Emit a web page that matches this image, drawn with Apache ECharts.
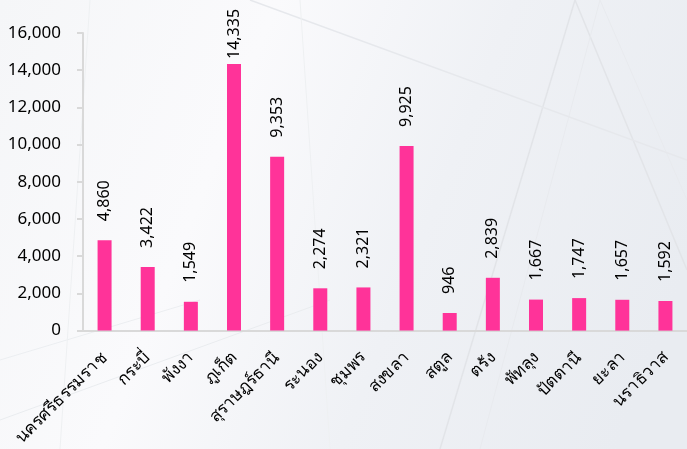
<!DOCTYPE html>
<html>
<head>
<meta charset="utf-8">
<script src="https://cdn.jsdelivr.net/npm/echarts@6/dist/echarts.min.js"></script>
<style>
  html, body { margin: 0; padding: 0; }
  #chart { width: 687px; height: 449px; }
</style>
</head>
<body>
<div id="chart"></div>
<script>
// จังหวัดภาคใต้
const provinces = ['นครศรีธรรมราช', 'กระบี่', 'พังงา', 'ภูเก็ต', 'สุราษฎร์ธานี', 'ระนอง', 'ชุมพร',
  'สงขลา', 'สตูล', 'ตรัง', 'พัทลุง', 'ปัตตานี', 'ยะลา', 'นราธิวาส'];
const counts = [4860, 3422, 1549, 14335, 9353, 2274, 2321, 9925, 946, 2839, 1667, 1747, 1657, 1592];
const yTicks = [0, 2000, 4000, 6000, 8000, 10000, 12000, 14000, 16000];

const chart = echarts.init(document.getElementById('chart'));
const fmt = (v) => Number(v).toLocaleString('en-US');
const lineCol = '#d9d9d9';

// เส้นจาง ๆ ของภาพตึกด้านหลัง
const bgLine = (pts, c, w) => ({
  type: 'polyline', silent: true, z: -1,
  shape: { points: pts },
  style: { stroke: c || '#e6e8ec', lineWidth: w || 1, fill: null },
});

chart.setOption({
  backgroundColor: {
    type: 'linear', x: 0, y: 0, x2: 1, y2: 0.6,
    colorStops: [
      { offset: 0, color: '#f5f6f8' },
      { offset: 0.35, color: '#fafafc' },
      { offset: 0.65, color: '#eff1f5' },
      { offset: 1, color: '#e9ecf1' },
    ],
  },
  graphic: [
    bgLine([[440, 449], [575, 0]], '#e2e4e8', 1.5),
    bgLine([[575, 0], [687, 270]], '#e2e4e8', 1.5),
    bgLine([[480, 449], [600, 0]], '#e8eaee'),
    bgLine([[600, 0], [687, 200]], '#e8eaee'),
    bgLine([[250, 0], [687, 160]], '#e6e8ec', 1.5),
    bgLine([[0, 420], [330, 300]], '#eaecef'),
    bgLine([[0, 360], [200, 300]], '#eceef1'),
    bgLine([[90, 0], [60, 449]], '#eef0f2'),
    bgLine([[300, 0], [330, 449]], '#eef0f2'),
  ],
  grid: { left: 83, right: -5, top: 33, bottom: 117 },
  xAxis: {
    type: 'category',
    data: provinces,
    axisLine: { lineStyle: { color: lineCol, width: 2 } },
    axisTick: { length: 6, lineStyle: { color: lineCol, width: 2 } },
    axisLabel: {
      rotate: 45, interval: 0, margin: 24,
      color: '#000', fontSize: 17, fontFamily: 'Noto Sans, sans-serif',
    },
  },
  yAxis: {
    type: 'value',
    min: 0, max: yTicks[yTicks.length - 1], interval: 2000,
    splitLine: { show: false },
    axisLine: { show: true, lineStyle: { color: lineCol, width: 2 } },
    axisTick: { show: true, length: 6, lineStyle: { color: lineCol, width: 2 } },
    axisLabel: {
      margin: 22, color: '#000', fontSize: 17, fontFamily: 'Noto Sans, sans-serif',
      formatter: fmt,
    },
  },
  series: [{
    type: 'bar',
    barWidth: 14,
    itemStyle: { color: '#ff3399' },
    label: {
      show: true, position: 'top', distance: 17, rotate: 90,
      align: 'left', verticalAlign: 'middle', offset: [2, 0],
      color: '#000', fontSize: 16, fontFamily: 'Noto Sans, sans-serif',
      formatter: (p) => fmt(p.value),
    },
    // แท่งสูงสุดชนขอบบน ป้ายจึงอยู่ชิดแท่ง
    data: counts.map((v) => (v > 14000 ? { value: v, label: { distance: 3 } } : v)),
  }],
});
</script>
</body>
</html>
